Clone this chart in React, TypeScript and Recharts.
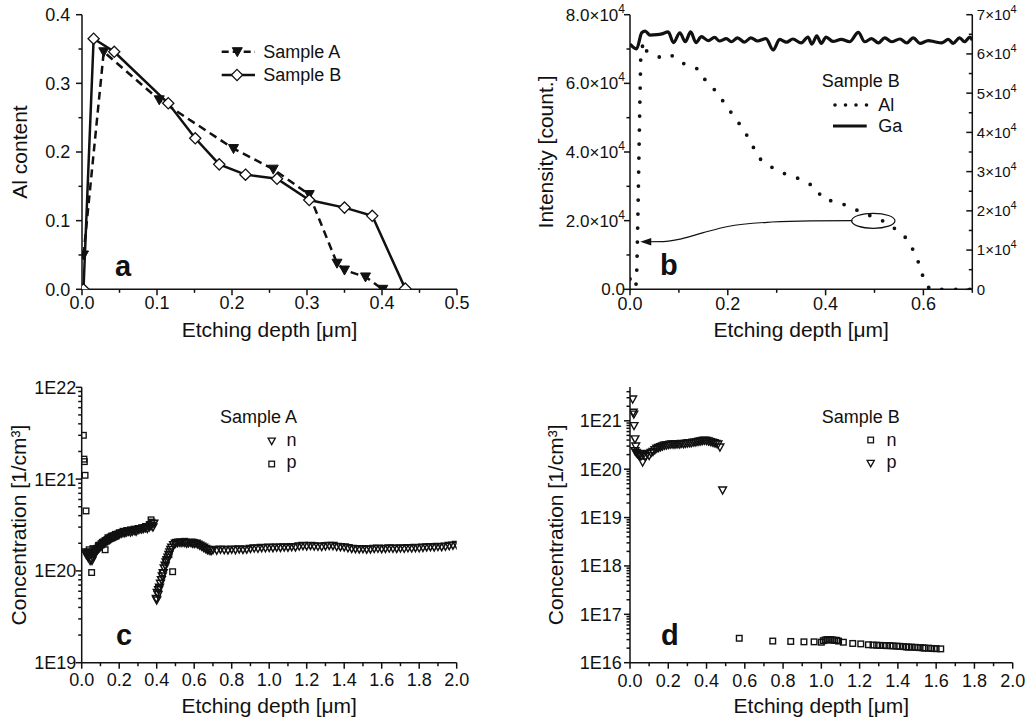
import React from 'react';
import { ComposedChart, ScatterChart, Line, Scatter, XAxis, YAxis, Legend, ReferenceDot, Label } from 'recharts';

const FONT = '"Liberation Sans", Arial, Helvetica, sans-serif';
const INK = '#111';

// ---------- Panel a: Al content ----------
const aSampleA: [number, number][] = [
  [0.002, 0.05], [0.029, 0.346], [0.103, 0.276], [0.202, 0.205], [0.255, 0.175],
  [0.303, 0.138], [0.34, 0.038], [0.35, 0.028], [0.378, 0.018], [0.401, 0.0],
];
const aSampleB: [number, number][] = [
  [0.002, 0.0], [0.0155, 0.365], [0.043, 0.346], [0.115, 0.271], [0.151, 0.22], [0.183, 0.182],
  [0.218, 0.167], [0.26, 0.161], [0.303, 0.13], [0.35, 0.119], [0.387, 0.107], [0.431, 0.001],
];
const aXMajor = [0, 0.1, 0.2, 0.3, 0.4, 0.5];
const aXMinor = [0.05, 0.15, 0.25, 0.35, 0.45];
const aYMajor = [0, 0.1, 0.2, 0.3, 0.4];
const aYMinor = [0.05, 0.15, 0.25, 0.35];

// ---------- Panel b: SIMS intensity ----------
const bAl: [number, number][] = [
  [0, 3000], [0.006, 2000], [0.012, 500], [0.014, 6000], [0.016, 20000], [0.019, 45000], [0.022, 68000],
  [0.027, 72000], [0.031, 69700], [0.041, 68900], [0.051, 68300], [0.061, 67600], [0.082, 68500],
  [0.102, 66300], [0.123, 64900], [0.141, 64100], [0.157, 60200], [0.177, 57600], [0.194, 54000],
  [0.213, 50300], [0.233, 46400], [0.25, 42000], [0.264, 38200], [0.288, 35700], [0.314, 33800],
  [0.337, 32800], [0.351, 31800], [0.378, 29900], [0.395, 26200], [0.416, 25700], [0.45, 24100],
  [0.477, 22100], [0.508, 20700], [0.537, 18200], [0.565, 14900], [0.583, 10500], [0.593, 6600],
  [0.603, 1900], [0.614, 0], [0.7, 0],
];
const bGa: [number, number][] = [
  [0, 62500], [0.0136, 61300], [0.024, 65400], [0.031, 65800], [0.041, 64800], [0.055, 64900],
  [0.065, 65100], [0.078, 65600], [0.089, 62900], [0.102, 65400], [0.113, 63100], [0.124, 65600],
  [0.135, 62900], [0.146, 64400], [0.16, 63400], [0.173, 64200], [0.183, 63300], [0.197, 63900],
  [0.207, 63100], [0.22, 64100], [0.234, 63000], [0.247, 64100], [0.261, 63300], [0.278, 63900],
  [0.293, 61000], [0.306, 63700], [0.32, 63000], [0.333, 63800], [0.35, 62800], [0.364, 64300],
  [0.372, 62500], [0.382, 64600], [0.391, 62700], [0.401, 64300], [0.415, 63200], [0.432, 63700],
  [0.449, 63100], [0.467, 65500], [0.48, 63100], [0.494, 63900], [0.508, 62800], [0.521, 64100],
  [0.535, 63100], [0.552, 63800], [0.566, 62800], [0.579, 64100], [0.593, 62700], [0.61, 63400],
  [0.623, 63100], [0.637, 62800], [0.651, 63700], [0.661, 62700], [0.674, 64100], [0.684, 63100],
  [0.695, 64300], [0.7, 63500],
];
const bArrow: [number, number][] = [
  [0.455, 20000], [0.37, 19950], [0.29, 19600], [0.2, 18300], [0.15, 16500], [0.105, 14700], [0.068, 13900], [0.03, 13850],
];
const bArrowTip: [number, number] = [0.021, 13850];
const bEllipse: [number, number] = [0.4975, 19960];
const bXMajor = [0, 0.2, 0.4, 0.6];
const bXMinor = [0.1, 0.3, 0.5, 0.7];
const bYMajor = [0, 20000, 40000, 60000, 80000];
const bYMinor = [10000, 30000, 50000, 70000];
const bRMajor = [0, 10000, 20000, 30000, 40000, 50000, 60000, 70000];
const bRMinor = [5000, 15000, 25000, 35000, 45000, 55000, 65000];

// ---------- Panel c: Sample A carrier concentration ----------
const cN: [number, number][] = [
  [0.02, 1.6e20], [0.025, 1.5e20], [0.03, 1.55e20], [0.035, 1.4e20], [0.04, 1.45e20], [0.045, 1.3e20],
  [0.05, 1.35e20], [0.055, 1.3e20], [0.06, 1.4e20], [0.065, 1.5e20], [0.07, 1.55e20], [0.075, 1.6e20], [0.08, 1.65e20], [0.085, 1.72e20], [0.09, 1.75e20],
  [0.095, 1.8e20], [0.1, 1.85e20], [0.105, 1.88e20], [0.11, 1.95e20], [0.115, 1.97e20], [0.12, 2.0e20], [0.125, 2.05e20], [0.13, 2.1e20], [0.135, 2.12e20], [0.14, 2.15e20], [0.145, 2.18e20], [0.15, 2.2e20],
  [0.155, 2.25e20], [0.16, 2.3e20], [0.165, 2.32e20], [0.17, 2.35e20], [0.175, 2.37e20], [0.18, 2.4e20], [0.185, 2.42e20], [0.19, 2.45e20], [0.195, 2.47e20], [0.2, 2.5e20], [0.21, 2.55e20],
  [0.22, 2.6e20], [0.23, 2.6e20], [0.24, 2.65e20], [0.25, 2.7e20], [0.26, 2.65e20], [0.27, 2.7e20],
  [0.28, 2.75e20], [0.29, 2.7e20], [0.3, 2.8e20], [0.31, 2.85e20], [0.32, 2.85e20], [0.33, 2.9e20],
  [0.34, 2.95e20], [0.35, 2.9e20], [0.36, 3.0e20], [0.37, 3.1e20], [0.38, 3.0e20], [0.385, 3.3e20],
  [0.398, 5.0e19], [0.4, 4.8e19], [0.403, 5.8e19], [0.407, 5.5e19], [0.41, 6.2e19], [0.415, 6.6e19],
  [0.42, 7.3e19], [0.425, 8.0e19], [0.43, 8.8e19], [0.435, 9.5e19], [0.44, 1.07e20], [0.445, 1.15e20],
  [0.45, 1.25e20], [0.455, 1.32e20], [0.46, 1.4e20], [0.465, 1.5e20], [0.47, 1.6e20], [0.475, 1.7e20],
  [0.48, 1.8e20], [0.49, 1.92e20], [0.5, 2.0e20], [0.51, 2.02e20], [0.52, 2.05e20], [0.53, 2.04e20],
  [0.54, 2.05e20], [0.55, 2.03e20], [0.56, 2.0e20], [0.57, 2.02e20], [0.58, 2.05e20], [0.59, 2.0e20],
  [0.6, 1.98e20], [0.61, 2.0e20], [0.62, 1.95e20], [0.63, 1.9e20], [0.64, 1.85e20], [0.65, 1.8e20],
  [0.66, 1.75e20], [0.67, 1.7e20], [0.68, 1.68e20], [0.69, 1.66e20], [0.7, 1.7e20],
  [0.72, 1.68e20], [0.74, 1.72e20], [0.76, 1.7e20], [0.78, 1.69e20], [0.8, 1.72e20], [0.82, 1.7e20],
  [0.84, 1.73e20], [0.86, 1.71e20], [0.88, 1.72e20], [0.9, 1.75e20], [0.92, 1.77e20], [0.94, 1.76e20],
  [0.96, 1.79e20], [0.98, 1.78e20], [1.0, 1.8e20], [1.02, 1.79e20], [1.04, 1.81e20], [1.06, 1.8e20],
  [1.08, 1.82e20], [1.1, 1.81e20], [1.12, 1.83e20], [1.14, 1.82e20], [1.16, 1.86e20], [1.18, 1.88e20],
  [1.2, 1.87e20], [1.22, 1.89e20], [1.24, 1.86e20], [1.26, 1.85e20], [1.28, 1.84e20], [1.3, 1.87e20],
  [1.32, 1.89e20], [1.34, 1.88e20], [1.36, 1.84e20], [1.38, 1.83e20], [1.4, 1.82e20], [1.42, 1.78e20],
  [1.44, 1.75e20], [1.46, 1.74e20], [1.48, 1.73e20], [1.5, 1.74e20], [1.52, 1.72e20], [1.54, 1.73e20],
  [1.56, 1.75e20], [1.58, 1.76e20], [1.6, 1.74e20], [1.62, 1.75e20], [1.64, 1.77e20], [1.66, 1.76e20],
  [1.68, 1.75e20], [1.7, 1.77e20], [1.72, 1.76e20], [1.74, 1.78e20], [1.76, 1.77e20], [1.78, 1.79e20],
  [1.8, 1.78e20], [1.82, 1.8e20], [1.84, 1.82e20], [1.86, 1.83e20], [1.88, 1.82e20], [1.9, 1.84e20],
  [1.92, 1.83e20], [1.94, 1.85e20], [1.96, 1.88e20], [1.98, 1.9e20], [2.0, 1.93e20],
];
const cP: [number, number][] = [
  [0.009, 3.0e21], [0.012, 1.65e21], [0.014, 1.55e21], [0.018, 1.1e21], [0.023, 4.5e20], [0.053, 9.6e19],
  [0.03, 1.6e20], [0.04, 1.7e20], [0.06, 1.75e20], [0.07, 1.7e20], [0.09, 1.9e20], [0.11, 2.05e20],
  [0.125, 1.7e20], [0.14, 2.3e20], [0.16, 2.4e20], [0.18, 2.5e20], [0.2, 2.6e20], [0.22, 2.7e20],
  [0.24, 2.75e20], [0.26, 2.8e20], [0.28, 2.85e20], [0.3, 2.9e20], [0.32, 2.95e20], [0.34, 3.05e20],
  [0.36, 3.2e20], [0.37, 3.6e20], [0.375, 3.4e20], [0.41, 6.5e19], [0.43, 9.5e19], [0.45, 1.3e20],
  [0.465, 1.5e20], [0.485, 9.8e19], [0.5, 2.05e20], [0.55, 2.1e20], [0.6, 2.05e20],
];
const cXMajor = [0, 0.2, 0.4, 0.6, 0.8, 1.0, 1.2, 1.4, 1.6, 1.8, 2.0];
const cXMinor = [0.1, 0.3, 0.5, 0.7, 0.9, 1.1, 1.3, 1.5, 1.7, 1.9];
const cYDecades = [19, 20, 21, 22];

// ---------- Panel d: Sample B carrier concentration ----------
const dN: [number, number][] = [
  [0.571, 3.2e16], [0.746, 2.8e16], [0.84, 2.75e16], [0.909, 2.7e16], [0.962, 2.7e16], [1.0, 2.65e16],
  [1.01, 2.85e16], [1.02, 2.95e16], [1.03, 3.0e16], [1.04, 2.95e16], [1.05, 3.0e16], [1.06, 2.95e16],
  [1.07, 2.9e16], [1.08, 2.9e16], [1.09, 2.8e16], [1.115, 2.65e16], [1.164, 2.5e16], [1.206, 2.45e16],
  [1.246, 2.35e16], [1.27, 2.32e16], [1.289, 2.3e16], [1.305, 2.28e16], [1.324, 2.27e16], [1.34, 2.25e16],
  [1.359, 2.25e16], [1.375, 2.22e16], [1.394, 2.2e16], [1.41, 2.18e16], [1.429, 2.15e16], [1.445, 2.12e16],
  [1.455, 2.1e16], [1.47, 2.1e16], [1.49, 2.08e16], [1.505, 2.06e16], [1.516, 2.05e16], [1.53, 2.03e16],
  [1.54, 2.0e16], [1.56, 2.0e16], [1.577, 1.97e16], [1.59, 1.96e16], [1.6, 1.95e16], [1.624, 1.93e16],
];
const dP: [number, number][] = [
  [0.014, 2.8e21], [0.017, 1.5e21], [0.02, 1.37e21], [0.021, 7.9e20], [0.026, 4.2e20], [0.03, 3.0e20],
  [0.026, 2.4e20], [0.033, 2.2e20], [0.038, 2.1e20], [0.043, 2.0e20], [0.048, 1.9e20], [0.052, 2.05e20],
  [0.057, 1.85e20], [0.066, 1.4e20], [0.07, 2.0e20], [0.08, 1.8e20], [0.09, 2.1e20], [0.1, 1.9e20],
  [0.11, 2.2e20], [0.12, 2.3e20], [0.13, 2.5e20], [0.14, 2.7e20], [0.15, 2.8e20], [0.16, 2.9e20],
  [0.17, 3.0e20], [0.18, 3.1e20], [0.19, 3.15e20], [0.2, 3.2e20], [0.21, 3.25e20], [0.22, 3.3e20],
  [0.23, 3.25e20], [0.24, 3.3e20], [0.25, 3.35e20], [0.26, 3.3e20], [0.27, 3.4e20], [0.28, 3.35e20],
  [0.29, 3.4e20], [0.3, 3.45e20], [0.31, 3.5e20], [0.32, 3.5e20], [0.33, 3.6e20], [0.34, 3.6e20],
  [0.35, 3.7e20], [0.36, 3.75e20], [0.37, 3.8e20], [0.38, 3.9e20], [0.39, 3.95e20], [0.4, 3.9e20],
  [0.41, 3.8e20], [0.42, 3.7e20], [0.43, 3.6e20], [0.44, 3.5e20], [0.45, 3.4e20], [0.46, 3.3e20],
  [0.47, 2.85e20], [0.484, 3.7e19],
];
const dXMajor = [0, 0.2, 0.4, 0.6, 0.8, 1.0, 1.2, 1.4, 1.6, 1.8, 2.0];
const dXMinor = [0.1, 0.3, 0.5, 0.7, 0.9, 1.1, 1.3, 1.5, 1.7, 1.9];
const dYDecades = [16, 17, 18, 19, 20, 21];
const dYTop = 5e21;

// ---------- helpers ----------
const pts = (arr: [number, number][]) => arr.map(([x, y]) => ({ x, y }));
const sortNum = (a: number[]) => [...a].sort((p, q) => p - q);
const decadeMajors = (dec: number[]) => dec.map((d) => Math.pow(10, d));
const decadeMinors = (dec: number[], top: number) => {
  const out: number[] = [];
  dec.forEach((d) => {
    for (let k = 2; k <= 9; k++) {
      const v = k * Math.pow(10, d);
      if (v < top * 0.999) out.push(v);
    }
  });
  return out;
};
const isIn = (arr: number[], v: number) => arr.some((m) => Math.abs(m - v) <= Math.abs(m) * 1e-6 + 1e-12);

type Fmt = (v: number) => React.ReactNode;
const MAJ = 6;
const MIN = 3.5;

const bottomTick = (majors: number[], fmt: Fmt, labelDy: number, fs = 18) => (p: any) => {
  const { x, y, payload } = p;
  const major = isIn(majors, payload.value);
  return (
    <g>
      <line x1={x} x2={x} y1={y} y2={y + (major ? MAJ : MIN)} stroke={INK} strokeWidth={1.5} />
      {major && (
        <text x={x} y={y + labelDy} textAnchor="middle" fontSize={fs} fontFamily={FONT} fill="#111">
          {fmt(payload.value)}
        </text>
      )}
    </g>
  );
};
const topTick = (majors: number[]) => (p: any) => {
  const { x, y, payload } = p;
  const major = isIn(majors, payload.value);
  return <line x1={x} x2={x} y1={y} y2={y + (major ? MAJ : MIN)} stroke={INK} strokeWidth={1.5} />;
};
const leftTick = (majors: number[], fmt: Fmt, gap: number, fs = 18) => (p: any) => {
  const { x, y, payload } = p;
  const major = isIn(majors, payload.value);
  return (
    <g>
      <line x1={x - (major ? MAJ : MIN)} x2={x} y1={y} y2={y} stroke={INK} strokeWidth={1.5} />
      {major && (
        <text x={x - gap} y={y + fs * 0.36} textAnchor="end" fontSize={fs} fontFamily={FONT} fill="#111">
          {fmt(payload.value)}
        </text>
      )}
    </g>
  );
};
const rightTick = (majors: number[], fmt?: Fmt, gap = 4.5, fs = 15) => (p: any) => {
  const { x, y, payload } = p;
  const major = isIn(majors, payload.value);
  return (
    <g>
      <line x1={x - (major ? MAJ : MIN)} x2={x} y1={y} y2={y} stroke={INK} strokeWidth={1.5} />
      {major && fmt && (
        <text x={x + gap} y={y + fs * 0.36} textAnchor="start" fontSize={fs} fontFamily={FONT} fill="#111">
          {fmt(payload.value)}
        </text>
      )}
    </g>
  );
};

const f1: Fmt = (v) => v.toFixed(1);
const fE: Fmt = (v) => `1E${Math.round(Math.log10(v))}`;
const fSciL: Fmt = (v) =>
  v === 0 ? '0.0' : (
    <>
      <tspan>{(v / 1e4).toFixed(1)}×10</tspan>
      <tspan dy={-8} fontSize={12}>4</tspan>
    </>
  );
const fSciR: Fmt = (v) =>
  v === 0 ? '0' : (
    <>
      <tspan>{Math.round(v / 1e4)}×10</tspan>
      <tspan dy={-7} fontSize={11}>4</tspan>
    </>
  );

const axisLine = { stroke: INK, strokeWidth: 1.5 };
const common = { tickLine: false, tickSize: 0, tickMargin: 0, interval: 0 as const, allowDataOverflow: true, axisLine };
const titleStyle = { fontSize: 21, fontFamily: FONT, fill: '#111' };

// ---------- markers ----------
const TriDown = ({ cx, cy, s = 3.6, fill = 'none', sw = 1.15 }: any) => (
  <path d={`M${cx - s},${cy - s * 0.8} L${cx + s},${cy - s * 0.8} L${cx},${cy + s} Z`} fill={fill} stroke={INK} strokeWidth={sw} />
);
const Sq = ({ cx, cy, s = 2.8, sw = 1.2 }: any) => (
  <rect x={cx - s} y={cy - s} width={2 * s} height={2 * s} fill="none" stroke={INK} strokeWidth={sw} />
);
const Diamond = ({ cx, cy, s = 5.6 }: any) => (
  <path d={`M${cx},${cy - s} L${cx + s},${cy} L${cx},${cy + s} L${cx - s},${cy} Z`} fill="#fff" stroke={INK} strokeWidth={1.3} />
);

// ---------- legends ----------
const LegendA = () => (
  <svg width={150} height={60} style={{ display: 'block' }}>
    <line x1={11.7} x2={45} y1={21.7} y2={21.7} stroke={INK} strokeWidth={2.5} strokeDasharray="7 4" />
    <TriDown cx={27.3} cy={21.7} s={5} fill={INK} sw={1} />
    <text x={53.3} y={28} fontSize={18} fontFamily={FONT} fill="#111">Sample A</text>
    <line x1={11.7} x2={45} y1={45} y2={45} stroke={INK} strokeWidth={2.5} />
    <Diamond cx={27} cy={45} />
    <text x={53.3} y={51.3} fontSize={18} fontFamily={FONT} fill="#111">Sample B</text>
  </svg>
);
const LegendB = () => (
  <svg width={150} height={80} style={{ display: 'block' }}>
    <text x={5.7} y={27.3} fontSize={18} fontFamily={FONT} fill="#111">Sample B</text>
    <line x1={19} x2={52.3} y1={45} y2={45} stroke={INK} strokeWidth={3.6} strokeLinecap="round" strokeDasharray="0 10.5" />
    <text x={62.3} y={51} fontSize={18} fontFamily={FONT} fill="#111">Al</text>
    <line x1={17} x2={50.7} y1={66} y2={66} stroke={INK} strokeWidth={3} />
    <text x={62.3} y={72} fontSize={18} fontFamily={FONT} fill="#111">Ga</text>
  </svg>
);
const LegendC = () => (
  <svg width={120} height={75} style={{ display: 'block' }}>
    <text x={20} y={21.3} fontSize={18} fontFamily={FONT} fill="#111">Sample A</text>
    <TriDown cx={71.7} cy={39} sw={1.3} />
    <text x={86.5} y={44} fontSize={18} fontFamily={FONT} fill="#111">n</text>
    <Sq cx={71.7} cy={62} sw={1.3} />
    <text x={86.5} y={66} fontSize={18} fontFamily={FONT} fill="#111">p</text>
  </svg>
);
const LegendD = () => (
  <svg width={120} height={75} style={{ display: 'block' }}>
    <text x={20.7} y={21.3} fontSize={18} fontFamily={FONT} fill="#111">Sample B</text>
    <Sq cx={69.7} cy={38} sw={1.3} />
    <text x={85.5} y={44} fontSize={18} fontFamily={FONT} fill="#111">n</text>
    <TriDown cx={69.7} cy={61.3} sw={1.3} />
    <text x={85.5} y={66} fontSize={18} fontFamily={FONT} fill="#111">p</text>
  </svg>
);

const legendBase = { layout: 'vertical' as const, align: 'center' as const, verticalAlign: 'middle' as const };

// ---------- panels ----------
function PanelA() {
  const xt = sortNum([...aXMajor, ...aXMinor]);
  const yt = sortNum([...aYMajor, ...aYMinor]);
  return (
    <ComposedChart width={516} height={350} margin={{ top: 14.7, right: 59, bottom: 5.7, left: 0 }}>
      <XAxis xAxisId="x" type="number" dataKey="x" domain={[0, 0.5]} ticks={xt} tick={bottomTick(aXMajor, f1, 19.5)} height={55} {...common}>
        <Label value="Etching depth [μm]" position="insideBottom" offset={7} {...titleStyle} />
      </XAxis>
      <XAxis xAxisId="top" orientation="top" type="number" dataKey="x" domain={[0, 0.5]} ticks={xt} tick={topTick(aXMajor)} height={0} {...common} />
      <YAxis yAxisId="y" type="number" domain={[0, 0.4]} ticks={yt} tick={leftTick(aYMajor, f1, 11.7)} width={82} {...common}>
        <Label value="Al content" angle={-90} position="insideLeft" offset={20} style={{ textAnchor: 'middle' }} {...titleStyle} />
      </YAxis>
      <YAxis yAxisId="r" orientation="right" type="number" domain={[0, 0.4]} ticks={yt} tick={rightTick(aYMajor)} width={0} {...common} />
      <Line
        xAxisId="x" yAxisId="y" data={pts(aSampleA)} dataKey="y" type="linear" stroke={INK} strokeWidth={2.5}
        strokeDasharray="8 5" isAnimationActive={false} name="Sample A"
        dot={(p: any) => <TriDown key={`a${p.index}`} cx={p.cx} cy={p.cy} s={5} fill={INK} sw={1} />}
      />
      <Line
        xAxisId="x" yAxisId="y" data={pts(aSampleB)} dataKey="y" type="linear" stroke={INK} strokeWidth={2.5}
        isAnimationActive={false} name="Sample B"
        dot={(p: any) => <Diamond key={`b${p.index}`} cx={p.cx} cy={p.cy} />}
      />
      <Legend {...legendBase} wrapperStyle={{ left: 210, top: 30, width: 150, height: 60 }} content={() => <LegendA />} />
    </ComposedChart>
  );
}

function PanelB() {
  const xt = sortNum([...bXMajor, ...bXMinor]);
  const yt = sortNum([...bYMajor, ...bYMinor]);
  const rt = sortNum([...bRMajor, ...bRMinor]);
  return (
    <ComposedChart width={516} height={350} margin={{ top: 14.7, right: 4.7, bottom: 5.7, left: 0 }}>
      <XAxis xAxisId="x" type="number" dataKey="x" domain={[0, 0.7]} ticks={xt} tick={bottomTick(bXMajor, f1, 21)} height={55} {...common}>
        <Label value="Etching depth [μm]" position="insideBottom" offset={7} {...titleStyle} />
      </XAxis>
      <XAxis xAxisId="top" orientation="top" type="number" dataKey="x" domain={[0, 0.7]} ticks={xt} tick={topTick(bXMajor)} height={0} {...common} />
      <YAxis yAxisId="left" type="number" domain={[0, 80000]} ticks={yt} tick={leftTick(bYMajor, fSciL, 5, 17)} width={114} {...common}>
        <Label value="Intensity [count.]" angle={-90} position="insideLeft" offset={30} style={{ textAnchor: 'middle' }} {...titleStyle} />
      </YAxis>
      <YAxis yAxisId="right" orientation="right" type="number" domain={[0, 70000]} ticks={rt} tick={rightTick(bRMajor, fSciR, 4.5, 15)} width={55} {...common} />
      <Line xAxisId="x" yAxisId="right" data={pts(bGa)} dataKey="y" type="monotone" stroke={INK} strokeWidth={3.2} dot={false} isAnimationActive={false} name="Ga" />
      <Line
        xAxisId="x" yAxisId="left" data={pts(bAl)} dataKey="y" type="linear" stroke={INK} strokeWidth={3.8}
        strokeLinecap="round" strokeDasharray="0 14" dot={false} isAnimationActive={false} name="Al"
      />
      <Line xAxisId="x" yAxisId="left" data={pts(bArrow)} dataKey="y" type="monotone" stroke={INK} strokeWidth={1.2} dot={false} isAnimationActive={false} legendType="none" name="arrow" />
      <ReferenceDot
        xAxisId="x" yAxisId="left" x={bArrowTip[0]} y={bArrowTip[1]} r={0}
        shape={(p: any) => <path d={`M${p.cx},${p.cy} L${p.cx + 11},${p.cy - 3.8} L${p.cx + 11},${p.cy + 3.8} Z`} fill={INK} />}
      />
      <ReferenceDot
        xAxisId="x" yAxisId="left" x={bEllipse[0]} y={bEllipse[1]} r={0}
        shape={(p: any) => <ellipse cx={p.cx} cy={p.cy} rx={21.7} ry={7.5} fill="none" stroke={INK} strokeWidth={1.2} />}
      />
      <Legend {...legendBase} wrapperStyle={{ left: 300, top: 60, width: 150, height: 80 }} content={() => <LegendB />} />
    </ComposedChart>
  );
}

function PanelC() {
  const xt = sortNum([...cXMajor, ...cXMinor]);
  const yMaj = decadeMajors(cYDecades);
  const yt = sortNum([...yMaj, ...decadeMinors([19, 20, 21], 1e22)]);
  return (
    <ScatterChart width={516} height={348} margin={{ top: 15.3, right: 59.3, bottom: 2.3, left: 0 }}>
      <XAxis xAxisId="x" type="number" dataKey="x" domain={[0, 2]} ticks={xt} tick={bottomTick(cXMajor, f1, 23.3)} height={55} {...common}>
        <Label value="Etching depth [μm]" position="insideBottom" offset={4.7} {...titleStyle} />
      </XAxis>
      <XAxis xAxisId="top" orientation="top" type="number" dataKey="x" domain={[0, 2]} ticks={xt} tick={topTick(cXMajor)} height={0} {...common} />
      <YAxis yAxisId="y" type="number" dataKey="y" scale="log" domain={[1e19, 1e22]} ticks={yt} tick={leftTick(yMaj, fE, 5.5)} width={81.7} {...common}>
        <Label value="Concentration [1/cm³]" angle={-90} position="insideLeft" offset={19} style={{ textAnchor: 'middle' }} {...titleStyle} />
      </YAxis>
      <YAxis yAxisId="r" orientation="right" type="number" dataKey="y" scale="log" domain={[1e19, 1e22]} ticks={yt} tick={rightTick(yMaj)} width={0} {...common} />
      <Scatter xAxisId="x" yAxisId="y" data={pts(cN)} name="n" isAnimationActive={false} shape={(p: any) => <TriDown cx={p.cx} cy={p.cy} s={3.9} sw={1.5} />} />
      <Scatter xAxisId="x" yAxisId="y" data={pts(cP)} name="p" isAnimationActive={false} shape={(p: any) => <Sq cx={p.cx} cy={p.cy} sw={1.35} />} />
      <Legend {...legendBase} wrapperStyle={{ left: 200, top: 30, width: 120, height: 75 }} content={() => <LegendC />} />
    </ScatterChart>
  );
}

function PanelD() {
  const xt = sortNum([...dXMajor, ...dXMinor]);
  const yMaj = decadeMajors(dYDecades);
  const yt = sortNum([...yMaj, ...decadeMinors(dYDecades, dYTop)]);
  return (
    <ScatterChart width={516} height={348} margin={{ top: 15, right: 19.3, bottom: 2.3, left: 0 }}>
      <XAxis xAxisId="x" type="number" dataKey="x" domain={[0, 2]} ticks={xt} tick={bottomTick(dXMajor, f1, 24)} height={55} {...common}>
        <Label value="Etching depth [μm]" position="insideBottom" offset={4.7} {...titleStyle} />
      </XAxis>
      <XAxis xAxisId="top" orientation="top" type="number" dataKey="x" domain={[0, 2]} ticks={xt} tick={topTick(dXMajor)} height={0} {...common} />
      <YAxis yAxisId="y" type="number" dataKey="y" scale="log" domain={[1e16, dYTop]} ticks={yt} tick={leftTick(yMaj, fE, 8.3)} width={114} {...common}>
        <Label value="Concentration [1/cm³]" angle={-90} position="insideLeft" offset={40} style={{ textAnchor: 'middle' }} {...titleStyle} />
      </YAxis>
      <YAxis yAxisId="r" orientation="right" type="number" dataKey="y" scale="log" domain={[1e16, dYTop]} ticks={yt} tick={rightTick(yMaj)} width={0} {...common} />
      <Scatter xAxisId="x" yAxisId="y" data={pts(dN)} name="n" isAnimationActive={false} shape={(p: any) => <Sq cx={p.cx} cy={p.cy} sw={1.4} />} />
      <Scatter xAxisId="x" yAxisId="y" data={pts(dP)} name="p" isAnimationActive={false} shape={(p: any) => <TriDown cx={p.cx} cy={p.cy} s={3.9} sw={1.4} />} />
      <Legend {...legendBase} wrapperStyle={{ left: 285, top: 30, width: 120, height: 75 }} content={() => <LegendD />} />
    </ScatterChart>
  );
}

const panelLetters = [
  { t: 'a', x: 115, y: 276 },
  { t: 'b', x: 660, y: 275 },
  { t: 'c', x: 116, y: 645 },
  { t: 'd', x: 661, y: 645 },
];

export default function App() {
  return (
    <div style={{ position: 'absolute', left: 0, top: 0, width: 1032, height: 720, background: '#fff', overflow: 'hidden', fontFamily: FONT }}>
      <div style={{ position: 'absolute', left: 0, top: 0 }}><PanelA /></div>
      <div style={{ position: 'absolute', left: 516, top: 0 }}><PanelB /></div>
      <div style={{ position: 'absolute', left: 0, top: 372 }}><PanelC /></div>
      <div style={{ position: 'absolute', left: 516, top: 372 }}><PanelD /></div>
      <svg width={1032} height={720} style={{ position: 'absolute', left: 0, top: 0, pointerEvents: 'none' }}>
        {panelLetters.map((l) => (
          <text key={l.t} x={l.x} y={l.y} fontSize={29} fontWeight="bold" fontFamily={FONT} fill="#111">{l.t}</text>
        ))}
      </svg>
    </div>
  );
}
